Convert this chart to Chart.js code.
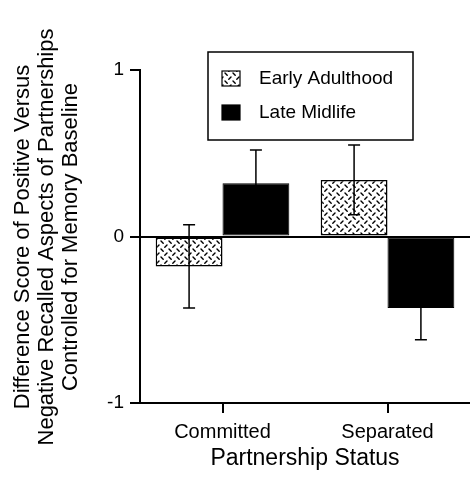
<!DOCTYPE html>
<html>
<head>
<meta charset="utf-8">
<script src="https://cdn.jsdelivr.net/npm/chart.js@4"></script>
<style>
  body { margin: 0; background: #fff; }
</style>
</head>
<body>
<canvas id="chart" width="470" height="484"></canvas>
<script>
const categories = ['Committed', 'Separated'];
const seriesNames = ['Early Adulthood', 'Late Midlife'];
const earlyValues = [-0.18, 0.34];
const earlyErrors = [0.25, 0.21];
const lateValues = [0.32, -0.43];
const lateErrors = [0.20, 0.19];
const yTickValues = [-1, 0, 1];
const yTitle = [
	'Difference Score of Positive Versus',
	'Negative Recalled Aspects of Partnerships',
	'Controlled for Memory Baseline',
];
const xTitle = 'Partnership Status';

const FONT = "'Liberation Sans', Arial, Helvetica, sans-serif";

// little dashed hatch used for the early adulthood bars
function makeHatch() {
	const c = document.createElement( 'canvas' );
	c.width = 8;
	c.height = 8;
	const g = c.getContext( '2d' );
	g.fillStyle = '#fff';
	g.fillRect( 0, 0, 8, 8 );
	g.strokeStyle = '#000';
	g.lineWidth = 1.4;
	g.lineCap = 'round';
	g.beginPath();
	g.moveTo( 1, 1 );
	g.lineTo( 3.2, 3.2 );
	g.moveTo( 4.8, 7.2 );
	g.lineTo( 7, 5 );
	g.stroke();
	return g.createPattern( c, 'repeat' );
}
const hatch = makeHatch();

const errorBars = {
	id: 'errorBars',
	afterDatasetsDraw( chart ) {
		const ctx = chart.ctx;
		const y = chart.scales.y;
		const errs = [ earlyErrors, lateErrors ];
		ctx.save();
		ctx.strokeStyle = '#000';
		ctx.lineWidth = 1.5;
		chart.data.datasets.forEach( ( ds, i ) => {
			chart.getDatasetMeta( i ).data.forEach( ( bar, j ) => {
				const v = ds.data[ j ];
				const e = errs[ i ][ j ];
				const top = y.getPixelForValue( v + e );
				const bot = y.getPixelForValue( v - e );
				ctx.beginPath();
				ctx.moveTo( bar.x, top );
				ctx.lineTo( bar.x, bot );
				ctx.moveTo( bar.x - 6, top );
				ctx.lineTo( bar.x + 6, top );
				ctx.moveTo( bar.x - 6, bot );
				ctx.lineTo( bar.x + 6, bot );
				ctx.stroke();
			} );
		} );
		ctx.restore();
	},
};

// boxed legend sitting over the plot, like the original figure
const boxLegend = {
	id: 'boxLegend',
	afterDraw( chart ) {
		const ctx = chart.ctx;
		const area = chart.chartArea;
		const left = area.left + 68;
		const top = area.top - 18;
		ctx.save();
		ctx.strokeStyle = '#000';
		ctx.lineWidth = 1.5;
		ctx.strokeRect( left, top, 205, 88 );
		ctx.font = '19px ' + FONT;
		ctx.textBaseline = 'middle';
		ctx.fillStyle = '#000';
		chart.data.datasets.forEach( ( ds, i ) => {
			const cy = top + 26 + i * 34;
			ctx.fillStyle = ds.backgroundColor;
			ctx.fillRect( left + 14, cy - 7, 18, 15 );
			ctx.lineWidth = 1.2;
			ctx.strokeRect( left + 14, cy - 7, 18, 15 );
			ctx.fillStyle = '#000';
			ctx.fillText( ds.label, left + 51, cy + 1 );
		} );
		ctx.restore();
	},
};

new Chart( document.getElementById( 'chart' ), {
	type: 'bar',
	data: {
		labels: categories,
		datasets: [
			{
				label: seriesNames[ 0 ],
				data: earlyValues,
				backgroundColor: hatch,
				borderColor: '#000',
				borderWidth: 1.5,
				borderSkipped: false,
			},
			{
				label: seriesNames[ 1 ],
				data: lateValues,
				backgroundColor: '#000',
				borderColor: '#000',
				borderWidth: 1,
				borderSkipped: false,
			},
		],
	},
	options: {
		responsive: false,
		animation: false,
		layout: { padding: { left: 0, right: 0, top: 0, bottom: 10 } },
		datasets: {
			bar: { categoryPercentage: 0.81, barPercentage: 1.0 },
		},
		plugins: {
			legend: { display: false },
			tooltip: { enabled: false },
			title: {
				display: true,
				position: 'left',
				text: yTitle,
				color: '#000',
				font: { family: FONT, size: 22, weight: 'normal', lineHeight: '24px' },
				padding: { top: 10.5, bottom: 0 },
			},
		},
		scales: {
			x: {
				afterFit( scale ) {
					scale.height = 71;
				},
				grid: {
					offset: false,
					drawOnChartArea: false,
					color: '#000',
					tickColor: '#000',
					tickLength: 10,
					lineWidth: 2,
				},
				border: { display: true, color: '#000', width: 2 },
				ticks: {
					color: '#000',
					padding: 7,
					font: { family: FONT, size: 20 },
				},
				title: {
					display: true,
					text: xTitle,
					color: '#000',
					font: { family: FONT, size: 23 },
					padding: { top: 0, bottom: 2 },
				},
			},
			y: {
				min: -1,
				max: 1,
				afterFit( scale ) {
					scale.width = 57.5;
					scale.paddingTop = 70;
				},
				afterBuildTicks( scale ) {
					scale.ticks = yTickValues.map( ( v ) => ( { value: v } ) );
				},
				grid: {
					color: ( c ) => ( c.tick && c.tick.value === 0 ? '#000' : 'rgba(0,0,0,0)' ),
					tickColor: '#000',
					tickLength: 10,
					lineWidth: 2,
				},
				border: { display: true, color: '#000', width: 2 },
				ticks: {
					color: '#000',
					padding: 6,
					font: { family: FONT, size: 19 },
				},
			},
		},
	},
	plugins: [ errorBars, boxLegend ],
} );
</script>
</body>
</html>
